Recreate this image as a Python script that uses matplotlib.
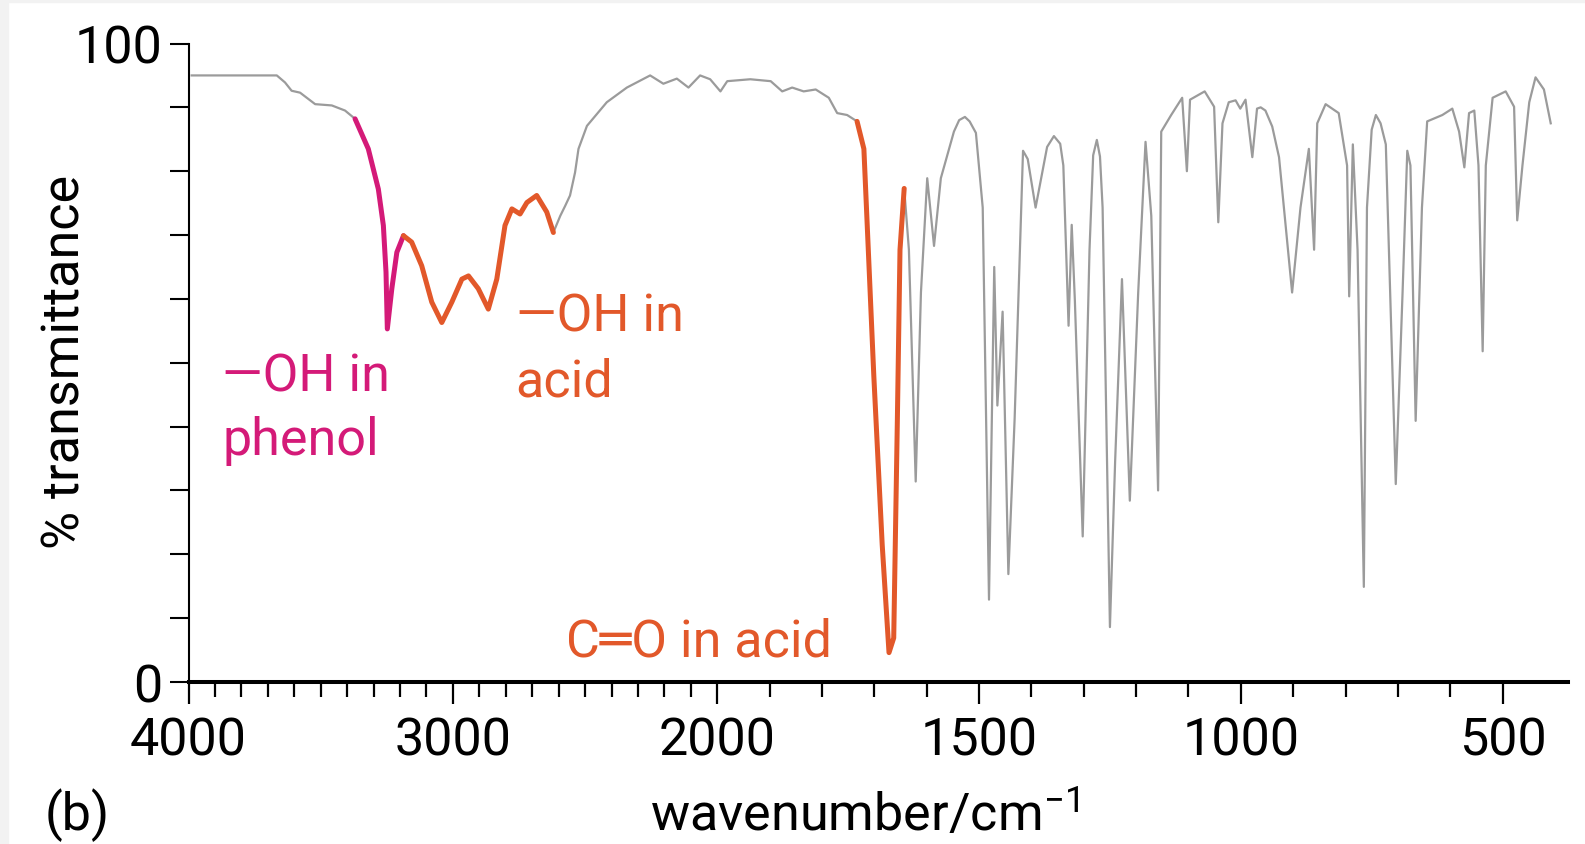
import matplotlib
matplotlib.use("Agg")
import matplotlib.pyplot as plt
import numpy as np
from matplotlib.patches import Rectangle

# IR spectrum (wavenumber in cm-1, % transmittance)
wavenumber = np.array([
    3988, 3666, 3635, 3610, 3578, 3521, 3458, 3408, 3370, 3320,
    3282, 3263, 3253, 3248, 3231, 3212, 3187, 3156, 3118, 3080,
    3042, 3004, 2966, 2941, 2904, 2866, 2834, 2803, 2777, 2746,
    2720, 2683, 2645, 2620, 2594, 2575, 2557, 2538, 2525, 2493,
    2418, 2342, 2254, 2204, 2153, 2109, 2065, 2027, 1994, 1981,
    1937, 1898, 1876, 1857, 1835, 1812, 1787, 1771, 1752, 1733,
    1720, 1701, 1685, 1672, 1663, 1656, 1651, 1643, 1634, 1621,
    1611, 1599, 1586, 1573, 1548, 1538, 1527, 1518, 1506, 1493,
    1481, 1471, 1465, 1455, 1444, 1432, 1416, 1407, 1392, 1370,
    1357, 1345, 1339, 1329, 1323, 1317, 1302, 1289, 1282, 1275,
    1269, 1264, 1250, 1240, 1227, 1212, 1196, 1182, 1171, 1158,
    1152, 1133, 1112, 1103, 1097, 1069, 1051, 1043, 1035, 1023,
    1010, 1001, 991, 978, 969, 962, 953, 940, 927, 902,
    886, 870, 860, 854, 838, 813, 797, 793, 786, 777,
    765, 759, 750, 742, 733, 723, 704, 691, 682, 676,
    666, 654, 644, 615, 596, 583, 573, 564, 554, 546,
    538, 532, 519, 494, 478, 472, 462, 449, 437, 421,
    408,
])
transmittance = np.array([
    95.0, 95.0, 93.9, 92.6, 92.3, 90.5, 90.3, 89.5, 88.2, 83.5,
    77.2, 71.5, 64.2, 55.3, 61.6, 67.3, 69.9, 68.9, 65.2, 59.5,
    56.3, 59.5, 63.1, 63.6, 61.6, 58.4, 63.1, 71.5, 74.1, 73.3,
    75.1, 76.2, 73.6, 70.4, 73.0, 74.6, 76.2, 79.8, 83.5, 87.1,
    90.8, 93.1, 95.0, 93.7, 94.5, 93.1, 95.0, 94.4, 92.5, 94.1,
    94.4, 94.1, 92.5, 93.1, 92.5, 92.8, 91.5, 89.1, 88.8, 87.8,
    83.5, 47.9, 21.5, 4.6, 6.9, 41.3, 67.7, 77.3, 67.7, 31.4,
    61.0, 78.9, 68.3, 78.9, 86.2, 88.0, 88.5, 87.8, 86.0, 74.3,
    12.9, 65.0, 43.3, 58.0, 16.9, 41.3, 83.2, 81.9, 74.3, 83.8,
    85.5, 84.3, 80.9, 55.8, 71.6, 59.8, 22.8, 67.7, 82.5, 84.9,
    82.3, 74.3, 8.6, 34.7, 63.1, 28.4, 61.0, 84.6, 73.0, 30.0,
    86.2, 88.8, 91.5, 80.0, 91.2, 92.5, 90.1, 72.0, 87.5, 90.8,
    91.1, 89.8, 91.2, 82.2, 89.8, 90.0, 89.5, 87.0, 82.2, 61.0,
    74.3, 83.5, 67.7, 87.5, 90.5, 89.1, 80.9, 60.4, 84.2, 67.7,
    14.9, 74.3, 86.5, 88.8, 87.5, 84.2, 31.0, 61.0, 83.2, 80.9,
    40.9, 74.3, 87.8, 88.8, 89.8, 86.2, 80.6, 89.1, 89.5, 80.9,
    51.8, 80.9, 91.5, 92.5, 90.1, 72.3, 80.9, 90.8, 94.7, 92.8,
    87.5,
])

# highlighted bands (high, low wavenumber)
phenol_oh_band = (3370, 3187)
acid_oh_band = (3187, 2620)
acid_co_band = (1733, 1643)

x_major = [4000, 3000, 2000, 1500, 1000, 500]
x_minor = [w for w in range(3900, 500, -100) if w not in x_major]
y_ticks = list(range(0, 101, 10))
y_labels = ["0"] + [""] * 9 + ["100"]

GRAY = "#9b9b9b"
MAGENTA = "#d41a78"
ORANGE = "#e2582a"

plt.rcParams["font.family"] = ["Roboto", "DejaVu Sans"]
plt.rcParams["mathtext.fontset"] = "custom"
plt.rcParams["mathtext.rm"] = "Roboto"
plt.rcParams["mathtext.default"] = "regular"
FS = 37.5


def _fwd(w):
    # usual IR chart: scale doubles below 2000 cm-1
    w = np.asarray(w, dtype=float)
    return np.where(w >= 2000, w, 2000 - 1.98 * (2000 - w))


def _inv(t):
    t = np.asarray(t, dtype=float)
    return np.where(t >= 2000, t, 2000 - (2000 - t) / 1.98)


def band(lo_hi):
    hi, lo = lo_hi
    m = (wavenumber <= hi) & (wavenumber >= lo)
    return wavenumber[m], transmittance[m]


fig = plt.figure(figsize=(15.85, 8.45), dpi=100, facecolor="white")
fig.add_artist(Rectangle((0, 0), 8 / 1585, 1, transform=fig.transFigure,
                         color="#f2f2f2", zorder=0))
fig.add_artist(Rectangle((0, 1 - 3 / 845), 1, 3 / 845, transform=fig.transFigure,
                         color="#f2f2f2", zorder=0))

ax = fig.add_axes([188.5 / 1585, 1 - 683 / 845, 1379.5 / 1585, 638.5 / 845])
ax.set_facecolor("none")
ax.set_xscale("function", functions=(_fwd, _inv))
ax.set_xlim(4000, 375)
ax.set_ylim(0, 100)

# spectrum
ax.plot(wavenumber, transmittance, color=GRAY, lw=1.6, solid_joinstyle="round", zorder=2)
for rng, col in [(phenol_oh_band, MAGENTA), (acid_oh_band, ORANGE), (acid_co_band, ORANGE)]:
    bx, by = band(rng)
    ax.plot(bx, by, color=col, lw=3.6, solid_joinstyle="round",
            solid_capstyle="round", zorder=3)

# axes styling
for s in ["top", "right"]:
    ax.spines[s].set_visible(False)
ax.spines["left"].set_linewidth(1.5)
ax.spines["bottom"].set_linewidth(2.9)
ax.spines["bottom"].set_zorder(4)

ax.set_xticks(x_major, [str(v) for v in x_major])
ax.set_xticks(x_minor, minor=True)
ax.set_yticks(y_ticks, y_labels)
ax.tick_params(axis="x", which="major", length=16, width=1.6, pad=8, labelsize=FS)
ax.tick_params(axis="x", which="minor", length=11, width=1.6)
ax.tick_params(axis="y", which="major", length=14, width=1.5, pad=5, labelsize=FS)

# annotations
ax.text(3873, 45.6, "\u2014OH in", color=MAGENTA, fontsize=FS, va="baseline", ha="left")
ax.text(3873, 35.7, "phenol", color=MAGENTA, fontsize=FS, va="baseline", ha="left")
ax.text(2763, 55.1, "\u2014OH in", color=ORANGE, fontsize=FS, va="baseline", ha="left")
ax.text(2763, 44.9, "acid", color=ORANGE, fontsize=FS, va="baseline", ha="left")
ax.text(2572, 4.1, "C\u2550O in acid", color=ORANGE, fontsize=FS, va="baseline", ha="left")

fig.text(66 / 1585, 1 - 361.5 / 845, "% transmittance", rotation=90,
         ha="center", va="center", fontsize=FS)
fig.text(864 / 1585, 1 - 831 / 845, "wavenumber/cm$^{-1}$",
         ha="center", va="baseline", fontsize=FS)
fig.text(45 / 1585, 3 / 845, "(b)", ha="left", va="bottom", fontsize=FS)

fig.savefig("out.png", dpi=100, facecolor=fig.get_facecolor())
